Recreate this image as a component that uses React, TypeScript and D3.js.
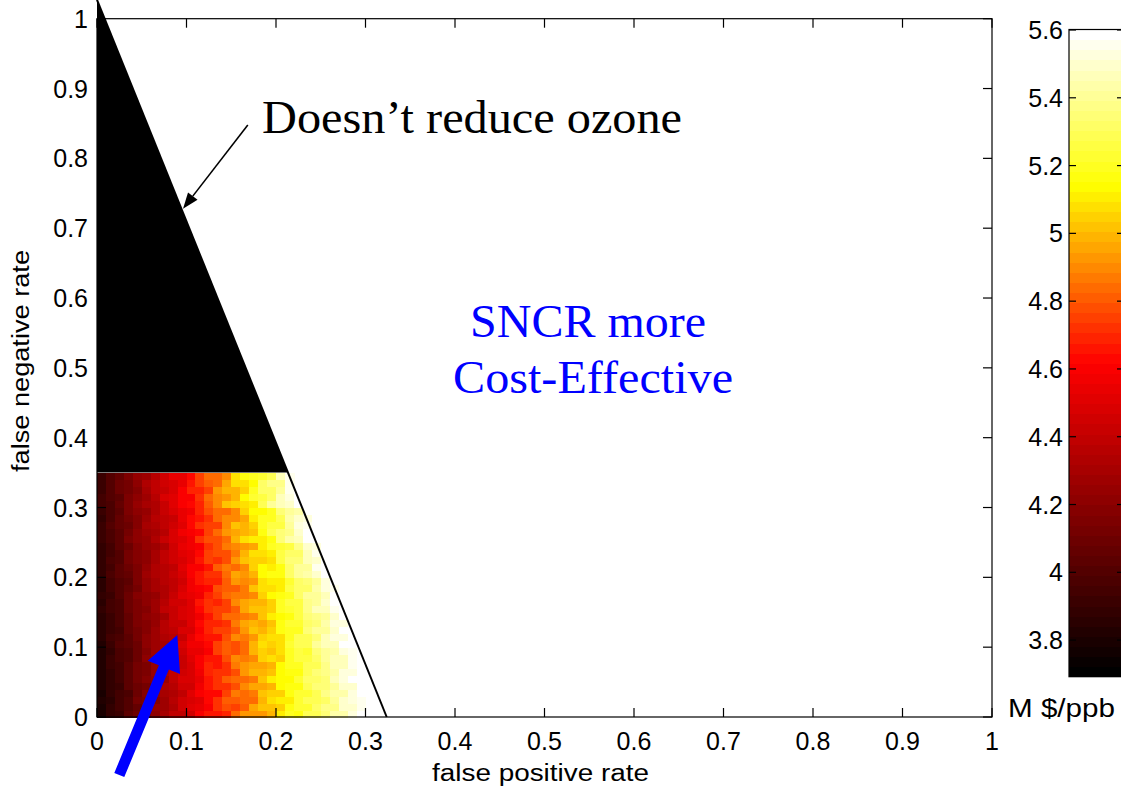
import React from "react";
import * as d3 from "d3";

// ---------- data ----------
const X_TICKS = [0, 0.1, 0.2, 0.3, 0.4, 0.5, 0.6, 0.7, 0.8, 0.9, 1];
const X_TICK_LABELS = ["0", "0.1", "0.2", "0.3", "0.4", "0.5", "0.6", "0.7", "0.8", "0.9", "1"];
const Y_TICKS = [0, 0.1, 0.2, 0.3, 0.4, 0.5, 0.6, 0.7, 0.8, 0.9, 1];
const Y_TICK_LABELS = ["0", "0.1", "0.2", "0.3", "0.4", "0.5", "0.6", "0.7", "0.8", "0.9", "1"];
const CB_TICKS = [3.8, 4, 4.2, 4.4, 4.6, 4.8, 5, 5.2, 5.4, 5.6];
const CB_TICK_LABELS = ["3.8", "4", "4.2", "4.4", "4.6", "4.8", "5", "5.2", "5.4", "5.6"];
const CB_RANGE = [3.692, 5.6015];
const COLOR_STOPS = [0, 0.486, 0.764, 1];
const COLOR_HEX = ["#000000", "#ff0000", "#ffff00", "#ffffff"];
const CELL = 0.01;
// boundary of "doesn't reduce ozone" region (fpr, fnr)
const BOUNDARY = [[0, 1.027], [0.3237, 0]];
const HEAT_TOP = 0.35;

// cost (M $/ppb) per 0.01 x 0.01 cell; row j = fnr from j*0.01, col i = fpr from i*0.01
const costRows: number[][] = [
  [3.81,3.89,3.93,4.03,4.10,4.14,4.21,4.31,4.38,4.40,4.46,4.59,4.67,4.65,4.70,4.85,4.92,4.94,4.93,4.98,5.12,5.19,5.18,5.28,5.28,5.36,5.44,5.45,5.52,5.58,5.62,5.66,5.70],
  [3.80,3.88,3.96,4.00,4.06,4.17,4.24,4.27,4.32,4.44,4.52,4.53,4.59,4.73,4.78,4.76,4.81,4.95,5.03,5.01,5.05,5.18,5.23,5.23,5.33,5.39,5.39,5.49,5.51,5.57,5.62,5.66,5.70],
  [3.82,3.87,3.94,4.02,4.11,4.16,4.19,4.26,4.37,4.45,4.47,4.52,4.64,4.71,4.80,4.82,4.83,4.85,4.99,5.08,5.11,5.12,5.22,5.30,5.30,5.33,5.42,5.50,5.54,5.56,5.62,5.66],
  [3.81,3.90,3.95,3.99,4.08,4.18,4.23,4.29,4.33,4.39,4.50,4.59,4.63,4.64,4.76,4.87,4.84,4.88,5.02,5.05,5.04,5.17,5.24,5.24,5.29,5.39,5.43,5.45,5.53,5.59,5.62,5.66],
  [3.82,3.88,3.92,4.03,4.09,4.13,4.22,4.32,4.36,4.44,4.45,4.56,4.67,4.71,4.71,4.77,4.90,4.97,4.96,5.00,5.13,5.16,5.16,5.29,5.34,5.34,5.40,5.49,5.50,5.58,5.62,5.66],
  [3.84,3.89,3.96,4.04,4.13,4.18,4.21,4.28,4.39,4.47,4.49,4.54,4.66,4.73,4.82,4.84,4.85,4.88,5.02,5.10,5.13,5.14,5.24,5.31,5.32,5.36,5.46,5.53,5.58,5.61,5.67],
  [3.84,3.90,3.94,4.05,4.11,4.15,4.24,4.34,4.38,4.46,4.47,4.58,4.69,4.73,4.73,4.79,4.92,5.00,4.99,5.02,5.15,5.18,5.18,5.30,5.36,5.37,5.44,5.52,5.54,5.63,5.67],
  [3.83,3.91,3.95,4.05,4.12,4.16,4.23,4.33,4.40,4.42,4.48,4.61,4.69,4.67,4.72,4.87,4.94,4.97,4.96,5.00,5.14,5.21,5.20,5.29,5.30,5.39,5.48,5.48,5.56,5.63,5.67],
  [3.83,3.92,3.97,4.01,4.10,4.20,4.25,4.31,4.35,4.41,4.52,4.61,4.65,4.66,4.78,4.89,4.86,4.91,5.05,5.07,5.06,5.19,5.26,5.25,5.31,5.42,5.47,5.48,5.57,5.64],
  [3.82,3.90,3.98,4.02,4.08,4.19,4.26,4.29,4.34,4.46,4.54,4.55,4.61,4.75,4.80,4.78,4.83,4.98,5.06,5.03,5.07,5.20,5.25,5.24,5.35,5.42,5.43,5.52,5.55,5.62],
  [3.84,3.92,4.00,4.04,4.10,4.21,4.28,4.31,4.36,4.47,4.56,4.57,4.62,4.76,4.81,4.79,4.84,4.99,5.07,5.05,5.09,5.22,5.28,5.28,5.40,5.47,5.48,5.58,5.61,5.67],
  [3.85,3.94,3.99,4.03,4.12,4.22,4.27,4.33,4.37,4.42,4.54,4.63,4.66,4.67,4.79,4.90,4.87,4.92,5.06,5.09,5.08,5.21,5.29,5.29,5.36,5.47,5.52,5.54,5.63],
  [3.86,3.92,3.96,4.07,4.13,4.17,4.26,4.36,4.40,4.47,4.49,4.60,4.70,4.74,4.74,4.80,4.93,5.01,5.00,5.04,5.17,5.20,5.21,5.34,5.41,5.42,5.49,5.58,5.60],
  [3.85,3.93,3.97,4.07,4.14,4.18,4.25,4.35,4.42,4.43,4.50,4.63,4.70,4.68,4.73,4.88,4.95,4.98,4.97,5.02,5.16,5.23,5.23,5.33,5.35,5.44,5.53,5.54,5.62],
  [3.86,3.91,3.98,4.06,4.15,4.20,4.23,4.30,4.41,4.48,4.51,4.56,4.67,4.74,4.83,4.85,4.86,4.89,5.03,5.12,5.15,5.16,5.27,5.35,5.37,5.41,5.51,5.59],
  [3.88,3.94,3.98,4.09,4.15,4.19,4.28,4.38,4.42,4.49,4.51,4.62,4.72,4.75,4.75,4.82,4.95,5.03,5.02,5.06,5.20,5.23,5.25,5.39,5.46,5.48,5.56,5.66],
  [3.87,3.95,3.99,4.09,4.16,4.20,4.27,4.37,4.44,4.45,4.52,4.65,4.72,4.69,4.74,4.90,4.97,5.00,4.99,5.04,5.19,5.26,5.27,5.38,5.40,5.50,5.60,5.62],
  [3.88,3.93,4.00,4.08,4.17,4.22,4.25,4.32,4.43,4.50,4.53,4.58,4.69,4.75,4.84,4.87,4.88,4.91,5.05,5.14,5.18,5.19,5.31,5.40,5.42,5.47,5.58,5.67],
  [3.86,3.94,4.02,4.06,4.12,4.23,4.30,4.33,4.38,4.49,4.58,4.59,4.64,4.77,4.82,4.81,4.86,5.01,5.09,5.07,5.12,5.25,5.32,5.33,5.45,5.53,5.55],
  [3.87,3.96,4.01,4.05,4.14,4.24,4.29,4.35,4.39,4.44,4.56,4.65,4.68,4.68,4.80,4.92,4.89,4.94,5.08,5.11,5.11,5.24,5.33,5.34,5.41,5.53,5.59],
  [3.89,3.98,4.04,4.07,4.16,4.26,4.32,4.37,4.41,4.47,4.59,4.67,4.71,4.72,4.84,4.96,4.93,4.99,5.13,5.16,5.17,5.32,5.41,5.43,5.51,5.63,5.68],
  [3.88,3.96,4.05,4.08,4.14,4.25,4.33,4.35,4.40,4.52,4.61,4.61,4.67,4.81,4.86,4.85,4.90,5.06,5.14,5.12,5.18,5.33,5.40,5.42,5.55,5.63],
  [3.89,3.97,4.02,4.11,4.18,4.22,4.30,4.39,4.46,4.48,4.55,4.67,4.75,4.73,4.78,4.94,5.01,5.05,5.04,5.09,5.25,5.34,5.35,5.47,5.50,5.60],
  [3.90,3.96,4.01,4.11,4.17,4.21,4.31,4.40,4.44,4.52,4.54,4.64,4.75,4.79,4.79,4.86,4.99,5.08,5.07,5.11,5.26,5.31,5.33,5.48,5.56,5.58],
  [3.90,3.95,4.03,4.10,4.19,4.24,4.28,4.34,4.45,4.53,4.56,4.60,4.72,4.79,4.88,4.91,4.92,4.96,5.10,5.19,5.24,5.27,5.39,5.49,5.52],
  [3.91,3.99,4.04,4.14,4.21,4.25,4.32,4.42,4.49,4.51,4.58,4.71,4.79,4.77,4.83,4.99,5.07,5.11,5.11,5.18,5.35,5.44,5.46,5.59,5.62],
  [3.92,3.97,4.05,4.13,4.22,4.27,4.30,4.37,4.48,4.56,4.59,4.64,4.76,4.83,4.93,4.96,4.98,5.02,5.17,5.28,5.34,5.37,5.50,5.61,5.64],
  [3.91,4.00,4.06,4.10,4.19,4.29,4.34,4.40,4.44,4.50,4.62,4.71,4.75,4.76,4.89,5.01,4.99,5.05,5.20,5.25,5.27,5.42,5.52,5.55],
  [3.90,3.98,4.07,4.11,4.17,4.28,4.35,4.38,4.43,4.55,4.64,4.65,4.71,4.85,4.91,4.90,4.96,5.12,5.21,5.21,5.28,5.43,5.51,5.54],
  [3.92,3.98,4.03,4.14,4.20,4.24,4.33,4.43,4.47,4.55,4.57,4.68,4.79,4.83,4.84,4.91,5.05,5.14,5.14,5.20,5.36,5.41,5.44,5.60],
  [3.94,3.99,4.07,4.15,4.24,4.30,4.34,4.41,4.52,4.60,4.63,4.69,4.81,4.90,5.01,5.04,5.07,5.11,5.28,5.40,5.46,5.50,5.64],
  [3.94,4.00,4.05,4.16,4.22,4.27,4.37,4.47,4.51,4.59,4.61,4.73,4.84,4.90,4.92,4.99,5.14,5.23,5.25,5.32,5.48,5.54,5.58],
  [3.92,4.00,4.09,4.13,4.19,4.31,4.39,4.42,4.47,4.59,4.68,4.70,4.76,4.92,4.99,4.98,5.05,5.21,5.32,5.33,5.40,5.56,5.65],
  [3.93,4.02,4.08,4.12,4.21,4.32,4.38,4.44,4.48,4.54,4.66,4.76,4.80,4.83,4.97,5.09,5.08,5.14,5.31,5.37,5.39,5.55],
  [3.93,4.01,4.06,4.16,4.23,4.28,4.36,4.46,4.53,4.55,4.62,4.76,4.84,4.84,4.91,5.07,5.16,5.20,5.22,5.30,5.47,5.57],
];

// annotations (data coordinates)
const BLACK_ARROW = { from: [0.1685, 0.8478], to: [0.0961, 0.7278] };
const BLUE_ARROW = { from: [0.0249, -0.0831], to: [0.0897, 0.1174] };
const NOTES = [
  { text: "Doesn\u2019t reduce ozone", x: 0.1844, y: 0.8363, color: "#000000", len: 420 },
  { text: "SNCR more", x: 0.4168, y: 0.5442, color: "#0000ff", len: 236 },
  { text: "Cost-Effective", x: 0.3978, y: 0.464, color: "#0000ff", len: 280 },
];

// ---------- layout ----------
const W = 1121;
const H = 791;
const PLOT = { left: 97, right: 992, top: 18.7, bottom: 717 };
const CB = { left: 1069, right: 1124, top: 29.5, bottom: 676.7 };
const TICK = 9;
const SANS = "'Liberation Sans', Arial, Helvetica, sans-serif";
const SERIF = "'Liberation Serif', 'Times New Roman', Times, serif";

export default function App() {
  const x = d3.scaleLinear().domain([0, 1]).range([PLOT.left, PLOT.right]);
  const y = d3.scaleLinear().domain([0, 1]).range([PLOT.bottom, PLOT.top]);
  const cbY = d3.scaleLinear().domain(CB_RANGE).range([CB.bottom, CB.top]);

  const cmap = d3
    .scaleLinear<string>()
    .domain(COLOR_STOPS)
    .range(COLOR_HEX)
    .interpolate(d3.interpolateRgb);
  const levels = d3.range(64).map((k) => cmap(k / 63));
  const color = d3.scaleQuantize<string>().domain(CB_RANGE).range(levels);

  const line = d3.line<number[]>().x((d) => x(d[0])).y((d) => y(d[1]));
  const xCut =
    BOUNDARY[0][0] +
    ((BOUNDARY[1][0] - BOUNDARY[0][0]) * (BOUNDARY[0][1] - HEAT_TOP)) /
      (BOUNDARY[0][1] - BOUNDARY[1][1]);
  const blackPoly = [[0, HEAT_TOP], BOUNDARY[0], [xCut, HEAT_TOP]];

  // blue arrow polygon
  const bt = [x(BLUE_ARROW.from[0]), y(BLUE_ARROW.from[1])];
  const bp = [x(BLUE_ARROW.to[0]), y(BLUE_ARROW.to[1])];
  const bl = Math.hypot(bp[0] - bt[0], bp[1] - bt[1]);
  const ux = (bp[0] - bt[0]) / bl, uy = (bp[1] - bt[1]) / bl;
  const nx = -uy, ny = ux;
  const headLen = 35, headHalf = 17.5, shaftHalf = 5.4;
  const base = [bp[0] - ux * headLen, bp[1] - uy * headLen];
  const bluePts = [
    [bt[0] + nx * shaftHalf, bt[1] + ny * shaftHalf],
    [base[0] + nx * shaftHalf, base[1] + ny * shaftHalf],
    [base[0] + nx * headHalf, base[1] + ny * headHalf],
    bp,
    [base[0] - nx * headHalf, base[1] - ny * headHalf],
    [base[0] - nx * shaftHalf, base[1] - ny * shaftHalf],
    [bt[0] - nx * shaftHalf, bt[1] - ny * shaftHalf],
  ];

  // black arrow
  const at = [x(BLACK_ARROW.from[0]), y(BLACK_ARROW.from[1])];
  const ap = [x(BLACK_ARROW.to[0]), y(BLACK_ARROW.to[1])];
  const al = Math.hypot(ap[0] - at[0], ap[1] - at[1]);
  const vx = (ap[0] - at[0]) / al, vy = (ap[1] - at[1]) / al;
  const ahLen = 16, ahHalf = 6;
  const abase = [ap[0] - vx * ahLen, ap[1] - vy * ahLen];
  const headPts = [
    ap,
    [abase[0] - vy * ahHalf, abase[1] + vx * ahHalf],
    [abase[0] + vy * ahHalf, abase[1] - vx * ahHalf],
  ];

  const cbStep = (CB_RANGE[1] - CB_RANGE[0]) / levels.length;

  return (
    <svg
      width={W}
      height={H}
      style={{ position: "absolute", left: 0, top: 0, background: "#fff" }}
    >
      <rect x={0} y={0} width={W} height={H} fill="#fff" />
      {/* heatmap cells */}
      <g shapeRendering="crispEdges">
        {costRows.map((row, j) =>
          row.map((v, i) => (
            <rect
              key={`${j}-${i}`}
              x={x(i * CELL)}
              y={y((j + 1) * CELL)}
              width={x((i + 1) * CELL) - x(i * CELL) + 0.6}
              height={y(j * CELL) - y((j + 1) * CELL) + 0.6}
              fill={color(v)}
            />
          ))
        )}
      </g>
      {/* black region */}
      <path d={line(blackPoly as number[][]) + "Z"} fill="#000" />
      {/* boundary line */}
      <path d={line(BOUNDARY) || ""} fill="none" stroke="#000" strokeWidth={2} />

      {/* axes box */}
      <rect
        x={PLOT.left}
        y={PLOT.top}
        width={PLOT.right - PLOT.left}
        height={PLOT.bottom - PLOT.top}
        fill="none"
        stroke="#000"
        strokeWidth={1.2}
      />
      {X_TICKS.map((t, k) => (
        <g key={`xt${k}`}>
          <line x1={x(t)} x2={x(t)} y1={PLOT.bottom} y2={PLOT.bottom - TICK} stroke="#000" strokeWidth={1.2} />
          <line x1={x(t)} x2={x(t)} y1={PLOT.top} y2={PLOT.top + TICK} stroke="#000" strokeWidth={1.2} />
          <text x={x(t)} y={PLOT.bottom + 33} textAnchor="middle" fontFamily={SANS} fontSize={25} fill="#000">
            {X_TICK_LABELS[k]}
          </text>
        </g>
      ))}
      {Y_TICKS.map((t, k) => (
        <g key={`yt${k}`}>
          <line x1={PLOT.left} x2={PLOT.left + TICK} y1={y(t)} y2={y(t)} stroke="#000" strokeWidth={1.2} />
          <line x1={PLOT.right} x2={PLOT.right - TICK} y1={y(t)} y2={y(t)} stroke="#000" strokeWidth={1.2} />
          <text x={PLOT.left - 9} y={y(t) + 9} textAnchor="end" fontFamily={SANS} fontSize={25} fill="#000">
            {Y_TICK_LABELS[k]}
          </text>
        </g>
      ))}
      <text
        x={(PLOT.left + PLOT.right) / 2 - 4}
        y={781}
        textAnchor="middle"
        fontFamily={SANS}
        fontSize={23}
        textLength={217}
        lengthAdjust="spacingAndGlyphs"
      >
        false positive rate
      </text>
      <text
        transform={`translate(29, 361) rotate(-90)`}
        textAnchor="middle"
        fontFamily={SANS}
        fontSize={23}
        textLength={222}
        lengthAdjust="spacingAndGlyphs"
      >
        false negative rate
      </text>

      {/* annotations */}
      <line x1={at[0]} y1={at[1]} x2={abase[0]} y2={abase[1]} stroke="#000" strokeWidth={1.6} />
      <polygon points={headPts.map((p) => p.join(",")).join(" ")} fill="#000" />
      <polygon points={bluePts.map((p) => p.join(",")).join(" ")} fill="#0000ff" />
      {NOTES.map((n, k) => (
        <text
          key={`n${k}`}
          x={x(n.x)}
          y={y(n.y)}
          fontFamily={SERIF}
          fontSize={46}
          fill={n.color}
          textLength={n.len}
          lengthAdjust="spacingAndGlyphs"
        >
          {n.text}
        </text>
      ))}

      {/* colorbar */}
      <g shapeRendering="crispEdges">
        {levels.map((c, k) => (
          <rect
            key={`cb${k}`}
            x={CB.left}
            y={cbY(CB_RANGE[0] + (k + 1) * cbStep)}
            width={CB.right - CB.left}
            height={cbY(CB_RANGE[0] + k * cbStep) - cbY(CB_RANGE[0] + (k + 1) * cbStep) + 0.6}
            fill={c}
          />
        ))}
      </g>
      <rect
        x={CB.left}
        y={CB.top}
        width={CB.right - CB.left}
        height={CB.bottom - CB.top}
        fill="none"
        stroke="#000"
        strokeWidth={1.2}
      />
      {CB_TICKS.map((t, k) => (
        <g key={`cbt${k}`}>
          <line x1={CB.left} x2={CB.left + 7} y1={cbY(t)} y2={cbY(t)} stroke="#000" strokeWidth={1.2} />
          <line x1={CB.right} x2={CB.right - 7} y1={cbY(t)} y2={cbY(t)} stroke="#000" strokeWidth={1.2} />
          <text x={CB.left - 6} y={cbY(t) + 9} textAnchor="end" fontFamily={SANS} fontSize={25} fill="#000">
            {CB_TICK_LABELS[k]}
          </text>
        </g>
      ))}
      <text x={1008} y={717} fontFamily={SANS} fontSize={25} fill="#000" textLength={107} lengthAdjust="spacingAndGlyphs">
        M $/ppb
      </text>
    </svg>
  );
}
